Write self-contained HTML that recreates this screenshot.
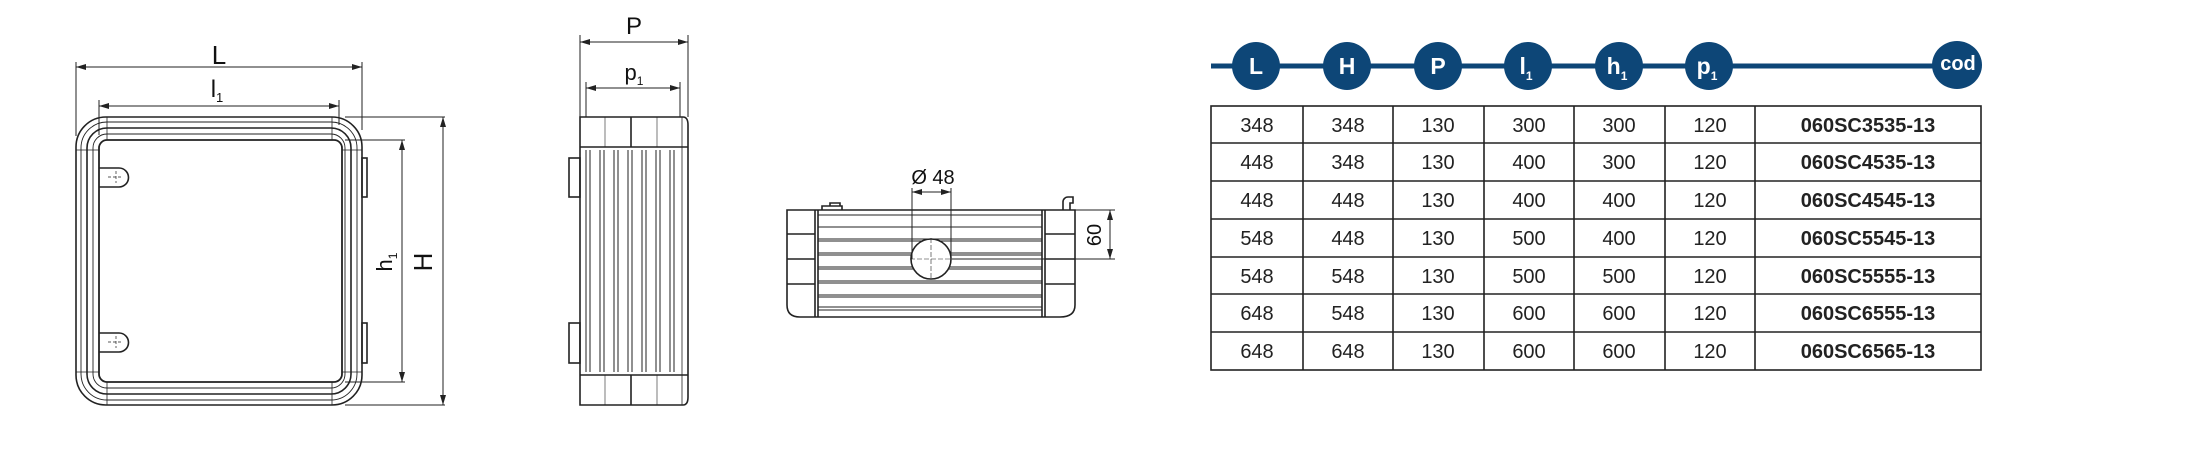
<!DOCTYPE html>
<html><head><meta charset="utf-8"><style>
html,body{margin:0;padding:0;background:#fff;}
svg{display:block;}
text{font-family:"Liberation Sans",sans-serif;}
</style></head><body>
<svg width="2190" height="451" viewBox="0 0 2190 451" xmlns="http://www.w3.org/2000/svg">
<defs>
<marker id="a" viewBox="0 0 10 6" refX="10" refY="3" markerWidth="10" markerHeight="6" orient="auto-start-reverse" markerUnits="userSpaceOnUse"><path d="M0,0 L10,3 L0,6 z" fill="#222"/></marker>
</defs>
<g stroke="#222" fill="none" stroke-width="1.6">
<!-- FRONT VIEW -->
<rect x="76" y="117" width="286" height="288" rx="30"/>
<rect x="81" y="122" width="276" height="278" rx="26" stroke-width="0.9"/>
<rect x="87" y="128" width="264" height="266" rx="20"/>
<rect x="93" y="134" width="252" height="254" rx="14" stroke-width="0.9"/>
<rect x="99" y="140" width="243" height="242" rx="8" stroke-width="1.8"/>
<line x1="107" y1="117" x2="107" y2="140" stroke-width="0.8"/><line x1="332" y1="117" x2="332" y2="140" stroke-width="0.8"/>
<line x1="107" y1="382" x2="107" y2="405" stroke-width="0.8"/><line x1="332" y1="382" x2="332" y2="405" stroke-width="0.8"/>
<line x1="76" y1="150" x2="99" y2="150" stroke-width="0.8"/><line x1="342" y1="150" x2="362" y2="150" stroke-width="0.8"/>
<line x1="76" y1="372" x2="99" y2="372" stroke-width="0.8"/><line x1="342" y1="372" x2="362" y2="372" stroke-width="0.8"/>
<path d="M99,168 h20 a9.5,9.5 0 0 1 0,19 h-20"/><path d="M99,333 h20 a9.5,9.5 0 0 1 0,19 h-20"/>
<path d="M108,177 h14 M116,171 v12 M108,342 h14 M116,336 v12" stroke-width="0.7" stroke-dasharray="3,2"/>
<rect x="362" y="158" width="5" height="39"/><rect x="362" y="323" width="5" height="40"/>
<g stroke-width="1">
<line x1="76" y1="62" x2="76" y2="136"/><line x1="362" y1="62" x2="362" y2="130"/>
<line x1="76" y1="67" x2="362" y2="67" marker-start="url(#a)" marker-end="url(#a)"/>
<line x1="99" y1="100" x2="99" y2="135"/><line x1="339" y1="100" x2="339" y2="125"/>
<line x1="99" y1="106" x2="339" y2="106" marker-start="url(#a)" marker-end="url(#a)"/>
<line x1="345" y1="117" x2="445" y2="117"/><line x1="345" y1="405" x2="445" y2="405"/>
<line x1="443" y1="117" x2="443" y2="405" marker-start="url(#a)" marker-end="url(#a)"/>
<line x1="345" y1="140" x2="405" y2="140"/><line x1="345" y1="382" x2="405" y2="382"/>
<line x1="402" y1="140" x2="402" y2="382" marker-start="url(#a)" marker-end="url(#a)"/>
</g>
<!-- SIDE VIEW -->
<path d="M580,117 H683 Q688,117 688,125 V397 Q688,405 683,405 H580 Z"/>
<line x1="580" y1="147" x2="688" y2="147"/><line x1="580" y1="375" x2="688" y2="375"/>
<line x1="631" y1="117" x2="631" y2="147"/><line x1="631" y1="375" x2="631" y2="405"/>
<line x1="605" y1="117" x2="605" y2="147" stroke-width="0.6"/><line x1="657" y1="117" x2="657" y2="147" stroke-width="0.6"/>
<line x1="605" y1="375" x2="605" y2="405" stroke-width="0.6"/><line x1="657" y1="375" x2="657" y2="405" stroke-width="0.6"/>
<line x1="682" y1="117" x2="682" y2="405" stroke-width="0.8"/>
<g stroke-width="1">
<line x1="586" y1="150" x2="586" y2="372"/><line x1="590" y1="150" x2="590" y2="372"/>
<line x1="600" y1="150" x2="600" y2="372"/><line x1="604" y1="150" x2="604" y2="372"/>
<line x1="614" y1="150" x2="614" y2="372"/><line x1="618" y1="150" x2="618" y2="372"/>
<line x1="628" y1="150" x2="628" y2="372"/><line x1="632" y1="150" x2="632" y2="372"/>
<line x1="642" y1="150" x2="642" y2="372"/><line x1="646" y1="150" x2="646" y2="372"/>
<line x1="656" y1="150" x2="656" y2="372"/><line x1="660" y1="150" x2="660" y2="372"/>
<line x1="670" y1="150" x2="670" y2="372"/><line x1="674" y1="150" x2="674" y2="372"/>
</g>
<rect x="569" y="158" width="11" height="39"/><rect x="569" y="323" width="11" height="40"/>
<g stroke-width="1">
<line x1="580" y1="35" x2="580" y2="117"/><line x1="688" y1="35" x2="688" y2="117"/>
<line x1="580" y1="42" x2="688" y2="42" marker-start="url(#a)" marker-end="url(#a)"/>
<line x1="586" y1="82" x2="586" y2="117"/><line x1="680" y1="82" x2="680" y2="117"/>
<line x1="586" y1="88" x2="680" y2="88" marker-start="url(#a)" marker-end="url(#a)"/>
</g>
<!-- BOTTOM VIEW -->
<path d="M787,210 H1075 V305 Q1075,317 1060,317 H800 Q787,317 787,305 Z"/>
<line x1="815" y1="210" x2="815" y2="317"/><line x1="818" y1="210" x2="818" y2="317"/>
<line x1="1042" y1="210" x2="1042" y2="317"/><line x1="1045" y1="210" x2="1045" y2="317"/>
<line x1="787" y1="234" x2="815" y2="234"/><line x1="787" y1="259" x2="815" y2="259"/><line x1="787" y1="284" x2="815" y2="284"/>
<line x1="1045" y1="234" x2="1075" y2="234"/><line x1="1045" y1="259" x2="1075" y2="259"/><line x1="1045" y1="284" x2="1075" y2="284"/>
<g stroke-width="1">
<path d="M818,215H1042M818,227H1042M818,239H1042M818,241H1042M818,253H1042M818,255H1042M818,267H1042M818,269H1042M818,281H1042M818,283H1042M818,295H1042M818,297H1042M818,307H1042M818,310H1042"/>
</g>
<path d="M822,210 v-4 h20 v4 M830,206 v-3 h10 v3"/>
<path d="M1063,210 v-8 a5,5 0 0 1 5,-5 h5 v6 h-3 v7"/>
<circle cx="931" cy="259" r="20" fill="#fff"/>
<line x1="931" y1="238" x2="931" y2="280" stroke-width="0.6" stroke-dasharray="5,2"/>
<line x1="910" y1="259" x2="952" y2="259" stroke-width="0.6" stroke-dasharray="5,2"/>
<g stroke-width="1">
<line x1="912" y1="188" x2="912" y2="259"/><line x1="951" y1="188" x2="951" y2="259"/>
<line x1="912" y1="192" x2="951" y2="192" marker-start="url(#a)" marker-end="url(#a)"/>
<line x1="1075" y1="210" x2="1115" y2="210"/><line x1="952" y1="259" x2="1115" y2="259"/>
<line x1="1110" y1="210" x2="1110" y2="259" marker-start="url(#a)" marker-end="url(#a)"/>
</g>
</g>
<g fill="#111">
<text x="219" y="64" font-size="26" text-anchor="middle">L</text>
<text x="217" y="97" font-size="24" text-anchor="middle">l<tspan font-size="13" dy="5">1</tspan></text>
<text transform="translate(432,262) rotate(-90)" font-size="26" text-anchor="middle">H</text>
<text transform="translate(392,262) rotate(-90)" font-size="22" text-anchor="middle">h<tspan font-size="12" dy="5">1</tspan></text>
<text x="634" y="34" font-size="24" text-anchor="middle">P</text>
<text x="634" y="80" font-size="22" text-anchor="middle">p<tspan font-size="12" dy="5">1</tspan></text>
<text x="933" y="184" font-size="20" text-anchor="middle">Ø 48</text>
<text transform="translate(1101,235) rotate(-90)" font-size="20" text-anchor="middle">60</text>
</g>
<line x1="1211" y1="66" x2="1981" y2="66" stroke="#0d4677" stroke-width="5"/>
<g fill="#0d4677">
<ellipse cx="1256" cy="66" rx="24" ry="24"/><ellipse cx="1347" cy="66" rx="24" ry="24"/>
<ellipse cx="1438" cy="66" rx="24" ry="24"/><ellipse cx="1528" cy="66" rx="24" ry="24"/>
<ellipse cx="1619" cy="66" rx="24" ry="24"/><ellipse cx="1709" cy="66" rx="24" ry="24"/>
<ellipse cx="1957" cy="65" rx="25" ry="24"/>
</g>
<g fill="#fff" font-size="23" font-weight="bold" text-anchor="middle">
<text x="1256" y="74">L</text><text x="1347" y="74">H</text><text x="1438" y="74">P</text>
<text x="1526" y="74">l<tspan font-size="12" dy="6">1</tspan></text>
<text x="1617" y="74">h<tspan font-size="12" dy="6">1</tspan></text>
<text x="1707" y="74">p<tspan font-size="12" dy="6">1</tspan></text>
<text x="1958" y="70" font-size="20">cod</text>
</g>
<g stroke="#222" stroke-width="1.6" fill="none">
<rect x="1211" y="106" width="770" height="264"/>
<path d="M1211,143H1981M1211,181H1981M1211,219H1981M1211,257H1981M1211,294H1981M1211,332H1981"/>
<path d="M1303,106V370M1393,106V370M1484,106V370M1574,106V370M1665,106V370M1755,106V370"/>
</g>
<g fill="#222" font-size="20" text-anchor="middle">
<g transform="translate(0,132)"><text x="1257">348</text><text x="1348">348</text><text x="1438">130</text><text x="1529">300</text><text x="1619">300</text><text x="1710">120</text><text x="1868" font-weight="bold">060SC3535-13</text></g>
<g transform="translate(0,169)"><text x="1257">448</text><text x="1348">348</text><text x="1438">130</text><text x="1529">400</text><text x="1619">300</text><text x="1710">120</text><text x="1868" font-weight="bold">060SC4535-13</text></g>
<g transform="translate(0,207)"><text x="1257">448</text><text x="1348">448</text><text x="1438">130</text><text x="1529">400</text><text x="1619">400</text><text x="1710">120</text><text x="1868" font-weight="bold">060SC4545-13</text></g>
<g transform="translate(0,245)"><text x="1257">548</text><text x="1348">448</text><text x="1438">130</text><text x="1529">500</text><text x="1619">400</text><text x="1710">120</text><text x="1868" font-weight="bold">060SC5545-13</text></g>
<g transform="translate(0,283)"><text x="1257">548</text><text x="1348">548</text><text x="1438">130</text><text x="1529">500</text><text x="1619">500</text><text x="1710">120</text><text x="1868" font-weight="bold">060SC5555-13</text></g>
<g transform="translate(0,320)"><text x="1257">648</text><text x="1348">548</text><text x="1438">130</text><text x="1529">600</text><text x="1619">600</text><text x="1710">120</text><text x="1868" font-weight="bold">060SC6555-13</text></g>
<g transform="translate(0,358)"><text x="1257">648</text><text x="1348">648</text><text x="1438">130</text><text x="1529">600</text><text x="1619">600</text><text x="1710">120</text><text x="1868" font-weight="bold">060SC6565-13</text></g>
</g>
</svg>
</body></html>
